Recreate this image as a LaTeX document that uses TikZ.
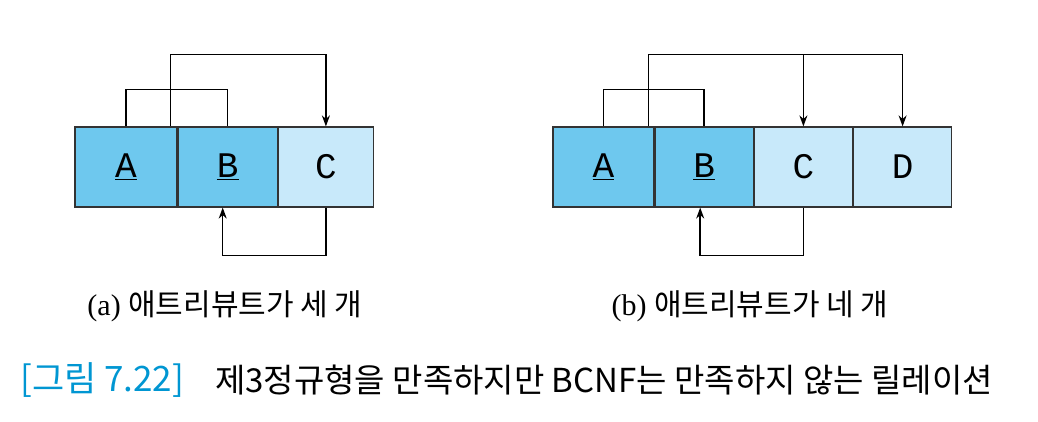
\documentclass[tikz,border=0pt]{standalone}
\usepackage{fontspec}
\setmainfont{Liberation Serif}
\newfontfamily\kr{Noto Sans CJK KR}
\newfontfamily\attr{Liberation Mono}
\usetikzlibrary{positioning,arrows.meta}
\definecolor{key_blue}{RGB}{110,200,238}
\definecolor{att_blue}{RGB}{200,233,250}
\definecolor{cap_blue}{RGB}{0,150,210}
\tikzset{
  attbox/.style={draw=black!80,line width=1.2pt,minimum width=99pt,minimum height=80pt,inner sep=0pt,
    font=\attr\fontsize{36}{38}\selectfont},
  keybox/.style={attbox,fill=key_blue},
  nonkey/.style={attbox,fill=att_blue},
  fd/.style={line width=1.5pt},
  fda/.style={line width=1.5pt,-{Stealth[length=11pt,width=8pt]}},
}
\begin{document}
\begin{tikzpicture}[x=1pt,y=-1pt]
  \useasboundingbox (0,0) rectangle (1038,422);
  %(a)
  \node[keybox,minimum width=102pt] (aA) at (126,167) {\underline{A}};
  \node[keybox,right=0pt of aA] (aB) {\underline{B}};
  \node[nonkey,right=0pt of aB,minimum width=95pt] (aC) {C};
  \draw[fd] (aA.north) -- ++(0,-37) -| (aB.north);
  \draw[fda] ([xshift=-7pt]aA.north east) -- ++(0,-72) -| (aC.north);
  \draw[fda] (aC.south) -- ++(0,48) -| ([xshift=-5pt]aB.south);
  \node[font=\fontsize{30}{32}\selectfont] (capa) at (225,306) {(a) {\kr 애트리뷰트가 세 개}};
  %(b)
  \node[keybox,minimum width=101pt] (bA) at (603.5,167) {\underline{A}};
  \node[keybox,right=0pt of bA,minimum width=98pt] (bB) {\underline{B}};
  \node[nonkey,right=0pt of bB,minimum width=98pt] (bC) {C};
  \node[nonkey,right=0pt of bC,minimum width=98pt] (bD) {D};
  \draw[fd] (bA.north) -- ++(0,-37) -| (bB.north);
  \draw[fda] ([xshift=-6pt]bA.north east) -- ++(0,-72) -| (bD.north);
  \draw[fda] (bC.north |- 0,55) -- (bC.north);
  \draw[fda] (bC.south) -- ++(0,48) -| ([xshift=-4pt]bB.south);
  \node[font=\fontsize{30}{32}\selectfont] (capb) at (750,306) {(b) {\kr 애트리뷰트가 네 개}};
  %그림 제목
  \node[anchor=west,font=\kr\fontsize{35}{38}\selectfont,text=cap_blue,inner sep=0pt] (fig) at (20,380) {[그림 7.22]};
  \node[anchor=west,font=\kr\fontsize{33}{36}\selectfont,inner sep=0pt] (title) at (215,380) {제3정규형을 만족하지만 BCNF는 만족하지 않는 릴레이션};
\end{tikzpicture}
\end{document}
